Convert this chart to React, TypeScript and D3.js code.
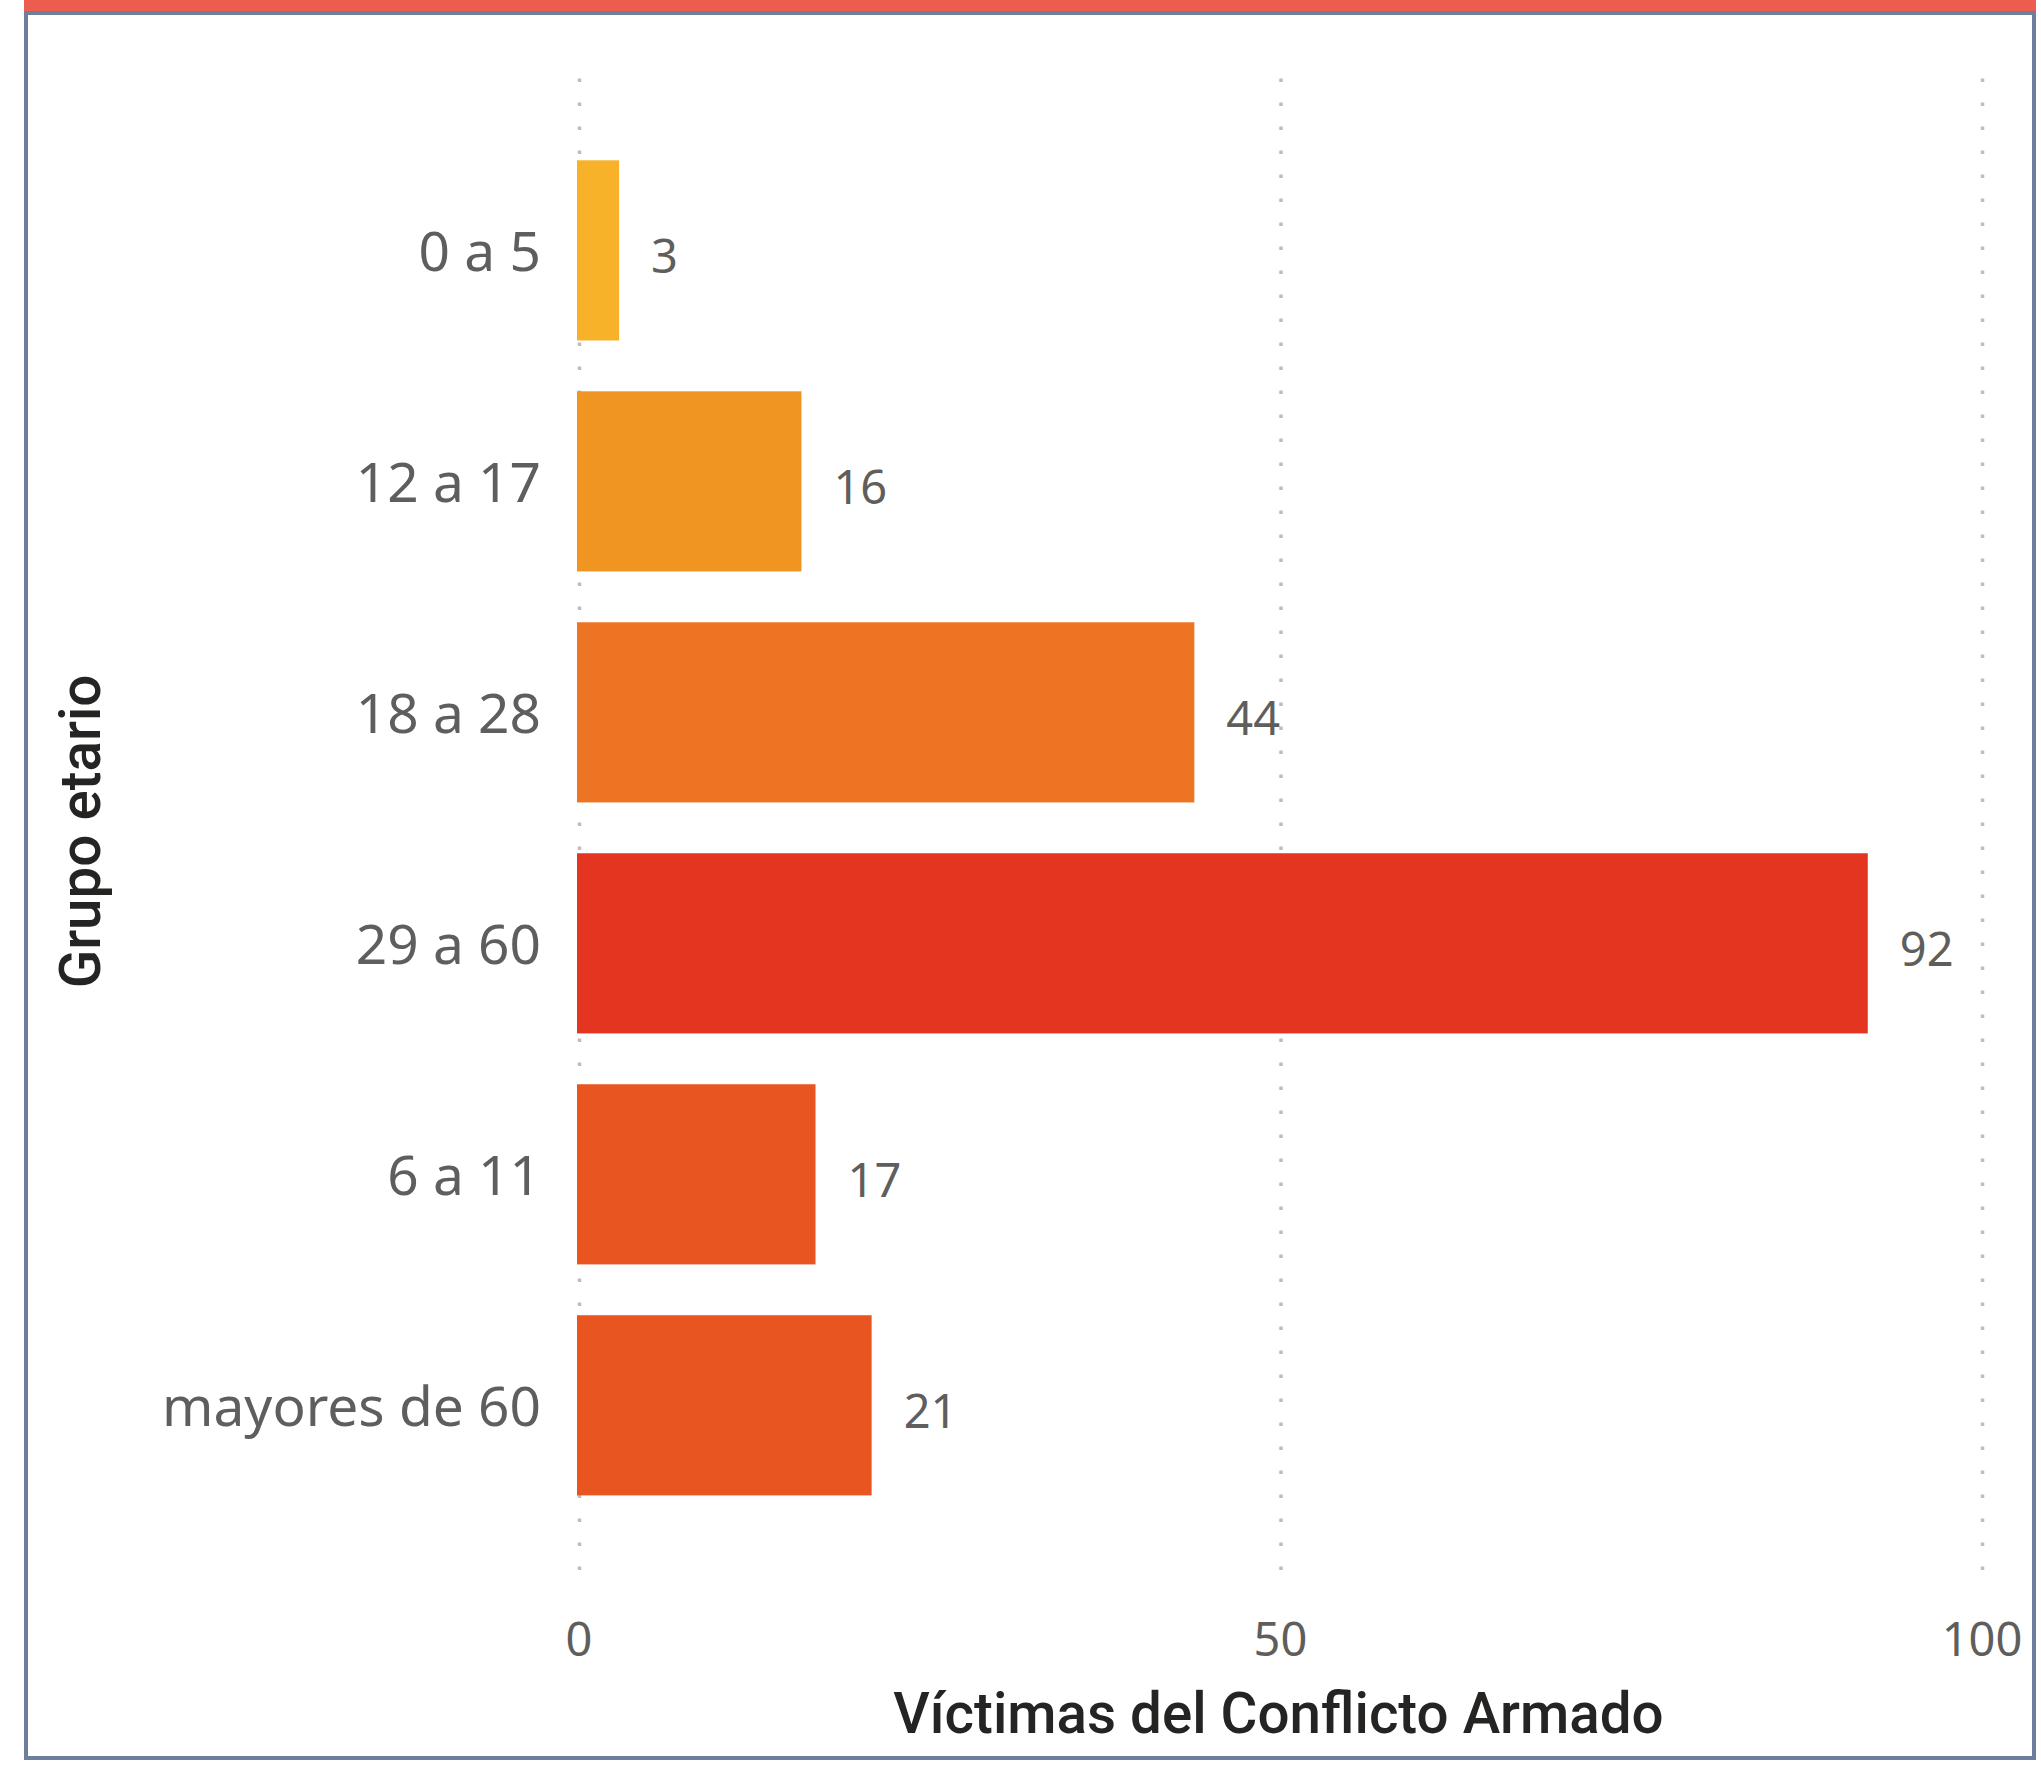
import React, { useRef, useEffect } from "react"
import * as d3 from "d3"

const categories = ["0 a 5", "12 a 17", "18 a 28", "29 a 60", "6 a 11", "mayores de 60"]
const victims = [3, 16, 44, 92, 17, 21]
const barColors = ["#f7b229", "#f09522", "#ed7423", "#e33520", "#e85520", "#e85521"]
const xTicks = [0, 50, 100]

const xTitle = "Víctimas del Conflicto Armado"
const yTitle = "Grupo etario"

export default function App() {
  const svgRef = useRef<SVGSVGElement>(null)
  const width = 2041
  const height = 1768

  useEffect(() => {
    if (!svgRef.current) return
    const svg = d3.select(svgRef.current)
    svg.selectAll("*").remove()

    const labelFont = "'Segoe UI', 'Noto Sans', sans-serif"
    const titleFont = "DIN, Roboto, sans-serif"

    // frame + red strip on top
    svg
      .append("rect")
      .attr("x", 24)
      .attr("y", 0)
      .attr("width", 2012)
      .attr("height", 12)
      .attr("fill", "#eb5e4f")
    svg
      .append("rect")
      .attr("x", 26)
      .attr("y", 13)
      .attr("width", 2008)
      .attr("height", 1745)
      .attr("fill", "#fff")
      .attr("stroke", "#6d7f9b")
      .attr("stroke-width", 4)

    const x = d3.scaleLinear().domain([0, 100]).range([577, 1980])
    const y = d3
      .scaleBand<string>()
      .domain(categories)
      .range([76, 1579.7])
      .paddingInner(0.22)
      .paddingOuter(0.365)

    // dotted gridlines
    svg
      .append("g")
      .selectAll("line")
      .data(xTicks)
      .enter()
      .append("line")
      .attr("x1", (d) => x(d) + 2.5)
      .attr("x2", (d) => x(d) + 2.5)
      .attr("y1", 78.5)
      .attr("y2", 1590)
      .attr("stroke", "#bdbdbd")
      .attr("stroke-width", 3.5)
      .attr("stroke-dasharray", "3.5 20.5")

    svg
      .append("g")
      .selectAll("rect")
      .data(victims)
      .enter()
      .append("rect")
      .attr("x", x(0))
      .attr("y", (_, i) => y(categories[i])!)
      .attr("width", (d) => x(d) - x(0))
      .attr("height", y.bandwidth())
      .attr("fill", (_, i) => barColors[i])

    // data labels
    svg
      .append("g")
      .selectAll("text")
      .data(victims)
      .enter()
      .append("text")
      .attr("x", (d) => x(d) + 32)
      .attr("y", (_, i) => y(categories[i])! + y.bandwidth() / 2 + 22.5)
      .attr("font-family", labelFont)
      .attr("font-size", 47)
      .attr("fill", "#605e5c")
      .text((d) => String(d))

    // category labels
    svg
      .append("g")
      .selectAll("text")
      .data(categories)
      .enter()
      .append("text")
      .attr("x", 541)
      .attr("y", (d) => y(d)! + y.bandwidth() / 2 + 20.5)
      .attr("text-anchor", "end")
      .attr("font-family", labelFont)
      .attr("font-size", 55)
      .attr("fill", "#605e5c")
      .text((d) => d)

    // x tick labels
    svg
      .append("g")
      .selectAll("text")
      .data(xTicks)
      .enter()
      .append("text")
      .attr("x", (d) => x(d) + 2)
      .attr("y", 1656)
      .attr("text-anchor", "middle")
      .attr("font-family", labelFont)
      .attr("font-size", 47)
      .attr("fill", "#605e5c")
      .text((d) => String(d))

    svg
      .append("text")
      .attr("x", (x(0) + x(100)) / 2)
      .attr("y", 1733)
      .attr("text-anchor", "middle")
      .attr("font-family", titleFont)
      .attr("font-weight", 500)
      .attr("font-size", 56.5)
      .attr("fill", "#252423")
      .text(xTitle)

    svg
      .append("text")
      .attr("transform", `translate(100,831.5) rotate(-90)`)
      .attr("text-anchor", "middle")
      .attr("font-family", titleFont)
      .attr("font-weight", 500)
      .attr("font-size", 56.5)
      .attr("fill", "#252423")
      .text(yTitle)
  }, [])

  return (
    <div style={{ position: "absolute", left: 0, top: 0, background: "#fff" }}>
      <svg ref={svgRef} width={width} height={height} style={{ display: "block" }}></svg>
    </div>
  )
}
